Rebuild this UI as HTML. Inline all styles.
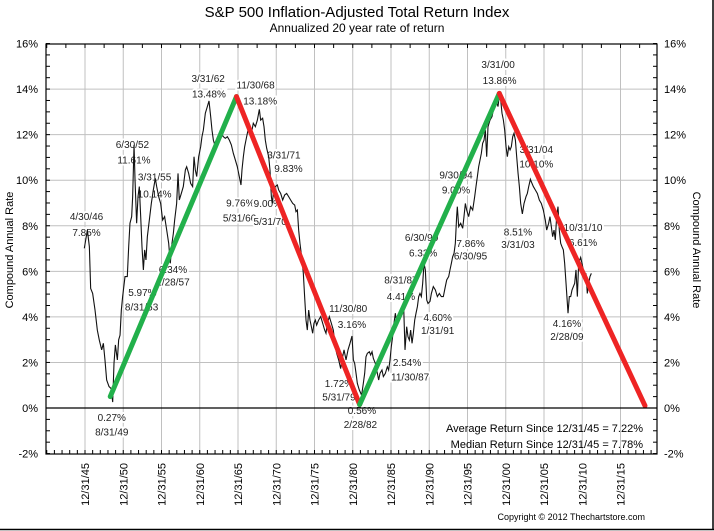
<!DOCTYPE html>
<html><head><meta charset="utf-8"><style>
html,body{margin:0;padding:0;background:#fff;}
body{width:714px;height:531px;overflow:hidden;position:relative;font-family:"Liberation Sans",Arial,sans-serif;}
svg{position:absolute;left:0;top:0;}
</style></head><body>
<svg id="chart" width="714" height="531" viewBox="0 0 714 531" font-family="Liberation Sans, Arial, sans-serif">
<rect x="0" y="0" width="714" height="531" fill="#fff"/>
<line x1="713" y1="0" x2="713" y2="530" stroke="#000" stroke-width="1.5"/>
<line x1="0" y1="529.5" x2="714" y2="529.5" stroke="#000" stroke-width="1.5"/>
<text x="357" y="17" text-anchor="middle" font-size="15">S&amp;P 500 Inflation-Adjusted Total Return Index</text>
<text x="357" y="32" text-anchor="middle" font-size="12">Annualized 20 year rate of return</text>
<text transform="translate(13,250) rotate(-90)" text-anchor="middle" font-size="11">Compound Annual Rate</text>
<text transform="translate(693,250) rotate(90)" text-anchor="middle" font-size="11">Compound Annual Rate</text>
<g id="grid"></g><g id="labels"></g><g id="series"></g><g id="trend"></g><g id="axes"></g>
<text x="643" y="432" text-anchor="end" font-size="11">Average Return Since 12/31/45 = 7.22%</text>
<text x="643" y="448" text-anchor="end" font-size="11">Median Return Since 12/31/45 = 7.78%</text>
<text x="645" y="520" text-anchor="end" font-size="9">Copyright © 2012 Thechartstore.com</text>
</svg>
<script>
const years=[1945.91,1946.31,1946.57,1946.74,1947.00,1947.31,1947.61,1947.87,1948.18,1948.40,1948.61,1948.83,1949.14,1949.40,1949.62,1949.79,1949.97,1950.23,1950.40,1950.58,1950.75,1950.92,1951.23,1951.53,1951.71,1951.88,1952.10,1952.23,1952.41,1952.54,1952.75,1952.93,1953.10,1953.28,1953.45,1953.63,1953.80,1953.97,1954.15,1954.41,1954.67,1954.93,1955.19,1955.37,1955.63,1955.89,1956.15,1956.41,1956.68,1956.94,1957.15,1957.37,1957.55,1957.72,1957.98,1958.16,1958.33,1958.59,1958.85,1959.12,1959.29,1959.55,1959.81,1960.07,1960.25,1960.42,1960.60,1960.86,1961.12,1961.29,1961.47,1961.73,1961.99,1962.21,1962.43,1962.60,1962.78,1963.04,1963.30,1963.56,1963.82,1964.08,1964.34,1964.61,1964.87,1965.13,1965.39,1965.65,1965.91,1966.17,1966.39,1966.52,1966.70,1966.87,1967.13,1967.31,1967.57,1967.83,1968.00,1968.27,1968.53,1968.79,1968.96,1969.22,1969.40,1969.57,1969.75,1970.01,1970.18,1970.36,1970.49,1970.62,1970.88,1971.14,1971.32,1971.58,1971.84,1972.10,1972.36,1972.62,1972.88,1973.15,1973.41,1973.58,1973.76,1973.93,1974.10,1974.37,1974.54,1974.71,1974.89,1975.06,1975.24,1975.41,1975.59,1975.76,1975.93,1976.11,1976.28,1976.54,1976.81,1977.07,1977.33,1977.50,1977.68,1977.94,1978.20,1978.46,1978.72,1978.90,1979.16,1979.42,1979.59,1979.86,1980.12,1980.38,1980.64,1980.90,1981.08,1981.25,1981.43,1981.60,1981.86,1982.16,1982.38,1982.56,1982.73,1982.91,1983.17,1983.34,1983.52,1983.69,1983.95,1984.13,1984.39,1984.56,1984.82,1985.00,1985.26,1985.52,1985.69,1985.87,1986.04,1986.21,1986.39,1986.57,1986.74,1987.00,1987.18,1987.44,1987.66,1987.83,1988.05,1988.22,1988.40,1988.57,1988.75,1988.92,1989.10,1989.27,1989.45,1989.62,1989.79,1989.97,1990.14,1990.32,1990.49,1990.67,1990.84,1991.10,1991.28,1991.53,1991.80,1992.06,1992.32,1992.58,1992.84,1993.10,1993.28,1993.54,1993.71,1993.89,1994.06,1994.24,1994.41,1994.58,1994.67,1994.85,1995.11,1995.37,1995.54,1995.72,1995.89,1996.15,1996.41,1996.68,1996.94,1997.11,1997.29,1997.46,1997.64,1997.81,1997.98,1998.16,1998.33,1998.51,1998.68,1998.94,1999.20,1999.47,1999.73,1999.99,2000.21,2000.34,2000.51,2000.69,2000.86,2001.04,2001.21,2001.39,2001.56,2001.73,2001.91,2002.08,2002.26,2002.43,2002.61,2002.78,2002.95,2003.17,2003.39,2003.65,2003.82,2004.00,2004.22,2004.43,2004.61,2004.87,2005.13,2005.39,2005.65,2005.91,2006.17,2006.35,2006.61,2006.78,2006.96,2007.13,2007.31,2007.48,2007.65,2007.83,2008.00,2008.18,2008.35,2008.53,2008.70,2008.88,2009.14,2009.31,2009.49,2009.66,2009.84,2010.01,2010.18,2010.36,2010.53,2010.79,2010.97,2011.14,2011.32,2011.49,2011.66,2011.84,2012.01,2012.19];
const returns=[7.01,7.81,7.08,5.25,5.03,4.30,3.42,2.98,2.55,2.84,2.11,1.23,0.94,0.86,0.26,1.96,2.77,2.11,2.99,3.20,4.30,4.89,5.77,5.77,7.08,8.11,8.40,9.28,11.55,10.01,8.11,9.28,9.72,8.40,7.08,6.06,6.94,6.50,7.52,8.25,8.98,9.57,10.08,9.72,9.28,8.98,8.25,8.40,7.81,7.23,6.35,7.23,7.67,8.25,8.98,10.30,9.13,9.42,9.72,10.45,10.59,10.30,9.86,9.72,11.03,10.45,10.16,11.03,11.47,11.91,12.20,12.94,13.23,13.48,12.79,12.20,11.76,11.47,11.76,11.91,12.06,11.91,11.84,11.91,11.76,11.55,11.18,10.89,10.59,10.16,9.79,10.45,11.03,11.47,11.91,12.20,12.35,12.20,12.50,12.35,12.64,13.11,12.64,12.72,12.35,11.76,11.40,11.03,10.45,9.28,8.98,9.42,9.72,9.79,9.57,9.42,9.13,9.35,9.42,9.28,9.13,8.98,8.91,8.62,8.69,7.81,7.23,6.50,5.91,4.89,3.86,3.42,4.30,3.86,3.57,3.28,3.72,3.86,3.64,3.86,4.01,3.72,3.42,3.28,3.72,4.01,3.72,3.42,2.69,2.40,2.11,1.73,2.11,2.55,2.11,2.55,2.84,3.16,2.11,1.96,1.52,1.08,0.79,0.56,1.08,1.52,2.25,2.40,2.47,2.33,2.47,2.18,1.96,1.67,1.23,1.52,1.67,1.38,1.52,1.81,1.67,2.11,2.69,3.13,3.72,4.16,3.72,3.86,4.01,4.23,4.42,2.55,3.57,3.13,2.98,3.42,2.84,3.28,3.86,4.16,4.45,4.89,5.03,4.89,5.47,6.35,6.06,4.74,4.59,4.68,5.03,5.33,5.18,4.89,5.03,4.89,4.89,5.33,5.62,5.77,6.06,6.35,6.64,6.79,7.23,8.40,8.84,7.96,8.11,7.89,8.40,8.98,8.69,8.40,8.84,8.69,9.28,9.72,10.16,10.59,10.89,11.18,11.62,11.76,12.20,11.03,12.35,12.64,12.79,13.23,13.52,13.23,13.87,13.52,12.94,12.64,12.20,11.47,11.03,11.47,11.33,11.47,11.91,12.06,11.76,11.03,10.30,9.72,8.98,8.52,8.98,9.28,9.42,9.72,10.04,9.86,9.72,9.57,9.42,9.13,8.98,8.69,8.25,7.81,8.11,8.40,7.96,7.52,7.81,7.38,8.40,8.84,7.81,7.23,7.08,6.94,6.35,5.47,4.16,4.89,4.89,5.18,5.33,5.47,6.06,4.89,6.35,6.61,6.35,6.06,5.77,5.91,5.03,5.47,5.77,5.91];
const trendYears=[1949.3,1965.8,1981.9,2000.16,2019.2];
const trendValues=[0.5,13.67,0.15,13.81,0.1];
const trendColors=["#22b04b","#ee2424","#22b04b","#ee2424"];
const yTicks=[16,14,12,10,8,6,4,2,0,-2];
const xTickYears=[1946,1951,1956,1961,1966,1971,1976,1981,1986,1991,1996,2001,2006,2011,2016];
const xTickLabels=["12/31/45","12/31/50","12/31/55","12/31/60","12/31/65","12/31/70","12/31/75","12/31/80","12/31/85","12/31/90","12/31/95","12/31/00","12/31/05","12/31/10","12/31/15"];
const annoText=["4/30/46","7.85%","6/30/52","11.61%","3/31/55","10.14%","3/31/62","13.48%","11/30/68","13.18%","3/31/71","9.83%","9.76%","5/31/66","9.00%","5/31/70","6.34%","2/28/57","5.97%","8/31/53","11/30/80","3.16%","1.72%","5/31/79","0.27%","8/31/49","0.56%","2/28/82","3/31/00","13.86%","3/31/04","10.10%","9/30/94","9.00%","8.51%","3/31/03","10/31/10","6.61%","6/30/90","6.33%","7.86%","6/30/95","8/31/87","4.41%","4.60%","1/31/91","2.54%","11/30/87","4.16%","2/28/09"];
const annoYear=[1946.2,1946.2,1952.2,1952.4,1955.1,1955.1,1962.1,1962.2,1968.3,1968.9,1972.0,1972.6,1966.3,1966.2,1969.9,1970.2,1957.5,1957.5,1953.5,1953.4,1980.4,1980.9,1979.2,1979.2,1949.5,1949.5,1982.2,1982.0,2000.0,2000.2,2005.0,2005.0,1994.5,1994.5,2002.6,2002.6,2011.1,2011.1,1990.0,1990.2,1996.4,1996.4,1987.3,1987.3,1992.1,1992.1,1988.1,1988.5,2009.0,2009.0];
const annoValue=[8.42,7.73,11.60,10.91,10.16,9.42,14.48,13.80,14.21,13.50,11.12,10.53,9.03,8.37,8.99,8.21,6.10,5.56,5.09,4.46,4.40,3.69,1.10,0.50,-0.40,-1.03,-0.08,-0.70,15.11,14.40,11.37,10.74,10.24,9.59,7.75,7.20,7.95,7.29,7.50,6.82,7.25,6.70,5.65,4.92,4.00,3.42,2.02,1.39,3.73,3.15];
const X=y=>85+(y-1946)*7.65, Y=v=>408-v*22.78;
const NS="http://www.w3.org/2000/svg";
function mk(t,a,p){const e=document.createElementNS(NS,t);for(const k in a)e.setAttribute(k,a[k]);p.appendChild(e);return e;}
const L=46,R=657,T=44,B=454;
const grid=document.getElementById('grid'),axes=document.getElementById('axes');
yTicks.forEach((v,i)=>{
 if(v!==0&&v!==16&&v!==-2){const g=mk('line',{x1:L,x2:R,y1:Y(v),y2:Y(v),stroke:'#c0c0c0','stroke-width':1},grid);
 
 }
 const t1=mk('text',{x:38,y:Y(v)+4,'text-anchor':'end','font-size':11},axes);t1.textContent=v+'%';
 
 
 const t2=mk('text',{x:664,y:Y(v)+4,'font-size':11},axes);t2.textContent=v+'%';
 
 
});
xTickYears.forEach((yr,i)=>{
 const g=mk('line',{x1:X(yr),x2:X(yr),y1:T,y2:B,stroke:'#c0c0c0','stroke-width':1},grid);
 
 
 const t=mk('text',{transform:`translate(${X(yr)+4},463) rotate(-90)`,'text-anchor':'end','font-size':11},axes);t.textContent=xTickLabels[i];
 
 
});
for(let v=-2;v<=16;v+=0.5){mk('line',{x1:L,x2:L+4,y1:Y(v),y2:Y(v),stroke:'#000'},axes);mk('line',{x1:R-4,x2:R,y1:Y(v),y2:Y(v),stroke:'#000'},axes);}
for(let yr=1941;yr<=2020;yr++){mk('line',{x1:X(yr),x2:X(yr),y1:B,y2:B-4,stroke:'#000'},axes);}
for(let yr=1941;yr<=2020;yr+=2.5){mk('line',{x1:X(yr),x2:X(yr),y1:T,y2:T+4,stroke:'#000'},axes);}
const zl=mk('line',{x1:L,x2:R,y1:Y(0),y2:Y(0),stroke:'#000','stroke-width':1.2},axes);


const fr=mk('rect',{x:L,y:T,width:R-L,height:B-T,fill:'none',stroke:'#000','stroke-width':1.2},axes);


const lab=document.getElementById('labels');
annoText.forEach((s,i)=>{const t=mk('text',{x:X(annoYear[i]),y:Y(annoValue[i])+4,'text-anchor':'middle','font-size':10,stroke:'#fff','stroke-width':4,'paint-order':'stroke',fill:'#222'},lab);t.textContent=s;
 
 });
const sp=mk('polyline',{points:years.map((y,i)=>X(y)+','+Y(returns[i])).join(' '),fill:'none',stroke:'#111','stroke-width':1.1},document.getElementById('series'));


const tr=document.getElementById('trend');
for(let i=0;i<trendYears.length-1;i++){
 const l=mk('line',{x1:X(trendYears[i]),y1:Y(trendValues[i]),x2:X(trendYears[i+1]),y2:Y(trendValues[i+1]),stroke:trendColors[i],'stroke-width':5,'stroke-linecap':'round'},tr);
 
 
}
</script>
</body></html>
